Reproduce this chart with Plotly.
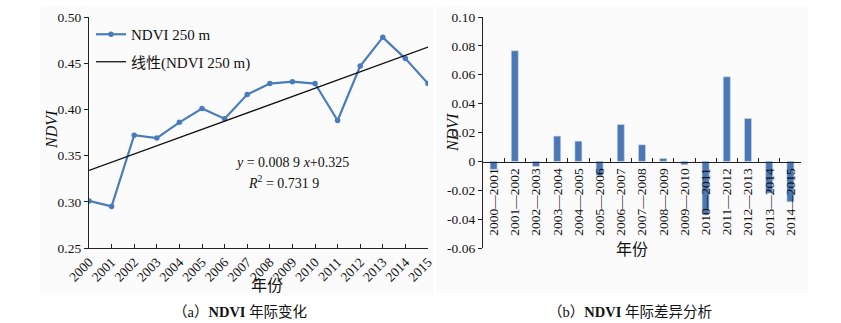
import plotly.graph_objects as go

# Annual mean NDVI (250 m), 2000-2015
years = [str(y) for y in range(2000, 2016)]
ndvi = [0.301, 0.295, 0.372, 0.369, 0.386, 0.401, 0.390, 0.416,
        0.428, 0.430, 0.428, 0.388, 0.447, 0.478, 0.455, 0.428]

# Linear trend stated on the chart: y = 0.0089 x + 0.325 (x = 1..16)
slope, intercept = 0.0089, 0.325

# Year-to-year differences
pairs = ["2000—2001", "2001—2002", "2002—2003", "2003—2004", "2004—2005",
         "2005—2006", "2006—2007", "2007—2008", "2008—2009", "2009—2010",
         "2010—2011", "2011—2012", "2012—2013", "2013—2014", "2014—2015"]
diffs = [-0.0055, 0.0766, -0.0035, 0.0175, 0.014, -0.0097, 0.0255, 0.0115,
         0.002, -0.0023, -0.037, 0.0586, 0.0297, -0.022, -0.028]

W, H = 841, 323
SERIF = "'Liberation Serif', 'Times New Roman', 'Noto Sans CJK SC', serif"
BLUE = "#4a7cbc"


def px(x):
    return x / W


def py(y):
    return 1 - y / H


trend = [slope * (i + 1) + intercept for i in range(len(years))]

fig = go.Figure()

fig.add_trace(go.Scatter(
    x=years, y=ndvi, mode="lines+markers", name="NDVI 250 m", legendgroup="a",
    line=dict(color=BLUE, width=2.2), marker=dict(size=5.5, color=BLUE),
    xaxis="x", yaxis="y"))
fig.add_trace(go.Scatter(
    x=years, y=trend, mode="lines", name="线性(NDVI 250 m)", legendgroup="b",
    line=dict(color="#111111", width=1.3), xaxis="x", yaxis="y"))

fig.add_trace(go.Bar(
    x=pairs, y=diffs,
    marker=dict(color="#4a78b6", line=dict(color="#c9d6ea", width=0.6)),
    width=0.33, showlegend=False, xaxis="x2", yaxis="y2"))

ydom = [py(248), py(17)]
zero_pos = py(248.3) + (0 - (-0.06)) / 0.16 * (py(17.3) - py(248.3))


def axis_style(size):
    return dict(showgrid=False, zeroline=False, showline=True, automargin=False,
                linecolor="#222222", linewidth=1.2, tickcolor="#222222",
                tickfont=dict(family=SERIF, size=size, color="#111111"))


fig.update_layout(
    width=W, height=H,
    margin=dict(l=0, r=0, t=0, b=0, autoexpand=False),
    paper_bgcolor="white", plot_bgcolor="rgba(0,0,0,0)",
    font=dict(family=SERIF, color="#111111"),
    xaxis=dict(domain=[px(89), px(428)], anchor="y", type="category",
               range=[0, len(years) - 1], ticks="inside", ticklen=4,
               tickangle=-45, **axis_style(13.5)),
    yaxis=dict(domain=ydom, anchor="x", range=[0.25, 0.50], dtick=0.05,
               tickformat=".2f", ticks="outside", ticklen=4, **axis_style(13.5)),
    xaxis2=dict(domain=[px(483), px(801)], anchor="free", position=zero_pos,
                type="category", range=[-0.5, len(pairs) - 0.5],
                ticks="inside", tickson="boundaries", ticklen=4, tickangle=-90,
                **axis_style(13.5)),
    yaxis2=dict(domain=ydom, anchor="x2", range=[-0.06, 0.10],
                tickvals=[-0.06, -0.04, -0.02, 0, 0.02, 0.04, 0.06, 0.08, 0.10],
                ticktext=["-0.06", "-0.04", "-0.02", "0", "0.02", "0.04",
                          "0.06", "0.08", "0.10"],
                ticks="outside", ticklen=4, **axis_style(13.5)),
    legend=dict(x=px(91), y=py(18), xanchor="left", yanchor="top",
                bgcolor="rgba(0,0,0,0)", font=dict(family=SERIF, size=15),
                tracegroupgap=5, itemwidth=30),
    showlegend=True,
)

# faint panel backgrounds
fig.add_shape(type="rect", xref="paper", yref="paper", layer="below",
              x0=px(40), x1=px(433), y0=py(295), y1=py(6),
              fillcolor="#fbfbfb", line=dict(width=0))
fig.add_shape(type="rect", xref="paper", yref="paper", layer="below",
              x0=px(436), x1=px(808), y0=py(293), y1=py(6),
              fillcolor="#fbfbfb", line=dict(width=0))


def text(x, y, s, size=14, angle=0):
    fig.add_annotation(x=px(x), y=py(y), xref="paper", yref="paper", text=s,
                       showarrow=False, textangle=angle,
                       xanchor="center", yanchor="middle",
                       font=dict(family=SERIF, size=size, color="#111111"))


text(51, 130, "<i>NDVI</i>", 16, -90)
text(452, 132, "<i>NDVI</i>", 16, -90)
text(267, 285, "年份", 16)
text(632, 249, "年份", 16)
text(292, 162, "<i>y</i> = 0.008 9 <i>x</i>+0.325", 14)
text(283, 182, "<i>R</i><sup>2</sup> = 0.731 9", 14)
text(240, 312, "（a）<b>NDVI</b> 年际变化", 14.5)
text(630, 312, "（b）<b>NDVI</b> 年际差异分析", 14.5)

fig.write_html("out.html")
